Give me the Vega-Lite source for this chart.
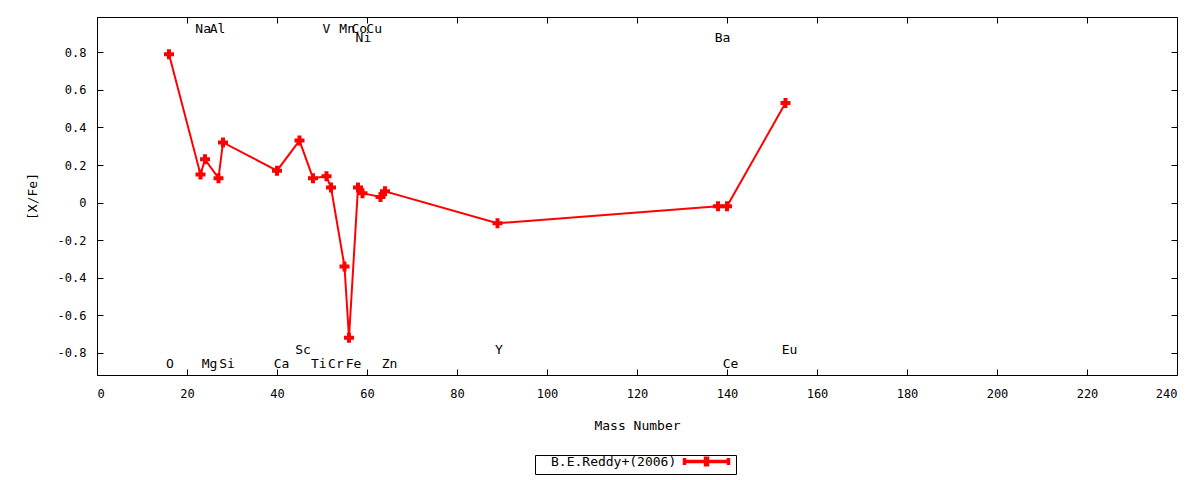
{
  "$schema": "https://vega.github.io/schema/vega-lite/v6.json",
  "width": 1080,
  "height": 358,
  "autosize": {"type": "none"},
  "padding": {"left": 97, "top": 17, "right": 23, "bottom": 105},
  "background": "white",
  "datasets": {
    "abund": [
      {"element": "O", "mass": 16, "xfe": 0.79, "source": "B.E.Reddy+(2006)"},
      {"element": "Na", "mass": 23, "xfe": 0.15, "source": "B.E.Reddy+(2006)"},
      {"element": "Mg", "mass": 24, "xfe": 0.23, "source": "B.E.Reddy+(2006)"},
      {"element": "Al", "mass": 27, "xfe": 0.13, "source": "B.E.Reddy+(2006)"},
      {"element": "Si", "mass": 28, "xfe": 0.32, "source": "B.E.Reddy+(2006)"},
      {"element": "Ca", "mass": 40, "xfe": 0.17, "source": "B.E.Reddy+(2006)"},
      {"element": "Sc", "mass": 45, "xfe": 0.33, "source": "B.E.Reddy+(2006)"},
      {"element": "Ti", "mass": 48, "xfe": 0.13, "source": "B.E.Reddy+(2006)"},
      {"element": "V", "mass": 51, "xfe": 0.14, "source": "B.E.Reddy+(2006)"},
      {"element": "Cr", "mass": 52, "xfe": 0.08, "source": "B.E.Reddy+(2006)"},
      {"element": "Mn", "mass": 55, "xfe": -0.34, "source": "B.E.Reddy+(2006)"},
      {"element": "Fe", "mass": 56, "xfe": -0.72, "source": "B.E.Reddy+(2006)"},
      {"element": "Ni", "mass": 58, "xfe": 0.08, "source": "B.E.Reddy+(2006)"},
      {"element": "Co", "mass": 59, "xfe": 0.05, "source": "B.E.Reddy+(2006)"},
      {"element": "Cu", "mass": 63, "xfe": 0.03, "source": "B.E.Reddy+(2006)"},
      {"element": "Zn", "mass": 64, "xfe": 0.06, "source": "B.E.Reddy+(2006)"},
      {"element": "Y", "mass": 89, "xfe": -0.11, "source": "B.E.Reddy+(2006)"},
      {"element": "Ba", "mass": 138, "xfe": -0.02, "source": "B.E.Reddy+(2006)"},
      {"element": "Ce", "mass": 140, "xfe": -0.02, "source": "B.E.Reddy+(2006)"},
      {"element": "Eu", "mass": 153, "xfe": 0.53, "source": "B.E.Reddy+(2006)"}
    ],
    "labels": [
      {"el": "Na", "lx": 23.6, "ly": 0.923},
      {"el": "Al", "lx": 26.8, "ly": 0.923},
      {"el": "V", "lx": 51.0, "ly": 0.923},
      {"el": "Mn", "lx": 55.6, "ly": 0.923},
      {"el": "Co", "lx": 58.3, "ly": 0.923},
      {"el": "Cu", "lx": 61.6, "ly": 0.923},
      {"el": "Ni", "lx": 59.2, "ly": 0.875},
      {"el": "Ba", "lx": 139.0, "ly": 0.875},
      {"el": "Sc", "lx": 45.8, "ly": -0.784},
      {"el": "Y", "lx": 89.3, "ly": -0.784},
      {"el": "Eu", "lx": 153.9, "ly": -0.784},
      {"el": "O", "lx": 16.2, "ly": -0.86},
      {"el": "Mg", "lx": 25.0, "ly": -0.86},
      {"el": "Si", "lx": 28.9, "ly": -0.86},
      {"el": "Ca", "lx": 41.0, "ly": -0.86},
      {"el": "Ti", "lx": 49.3, "ly": -0.86},
      {"el": "Cr", "lx": 53.1, "ly": -0.86},
      {"el": "Fe", "lx": 57.0, "ly": -0.86},
      {"el": "Zn", "lx": 65.0, "ly": -0.86},
      {"el": "Ce", "lx": 140.8, "ly": -0.86}
    ]
  },
  "layer": [
    {
      "data": {"name": "abund"},
      "mark": {"type": "line", "color": "#ff0000", "strokeWidth": 2},
      "encoding": {
        "x": {
          "field": "mass", "type": "quantitative",
          "scale": {"domain": [0, 240], "nice": false, "zero": false},
          "axis": {
            "orient": "bottom", "title": "Mass Number",
            "values": [0, 20, 40, 60, 80, 100, 120, 140, 160, 180, 200, 220, 240],
            "labelPadding": 19,
            "titleX": 540, "titleY": 50, "titleBaseline": "middle"
          }
        },
        "y": {
          "field": "xfe", "type": "quantitative",
          "scale": {"domain": [-0.918, 0.988], "nice": false, "zero": false},
          "axis": {
            "orient": "left", "title": "[X/Fe]",
            "values": [-0.8, -0.6, -0.4, -0.2, 0, 0.2, 0.4, 0.6, 0.8],
            "labelExpr": "abs(datum.value) < 1e-9 ? '0' : replace(format(datum.value, '.1f'), '\u2212', '-')",
            "labelPadding": 17,
            "titleX": -65, "titleY": 179, "titleAngle": -90,
            "titleAlign": "center", "titleBaseline": "middle"
          }
        },
        "color": {
          "field": "source", "type": "nominal",
          "scale": {"range": ["#ff0000"]},
          "legend": {
            "orient": "none", "legendX": 438, "legendY": 438,
            "title": null, "strokeColor": "black", "padding": 0,
            "labelFont": "DejaVu Sans Mono", "labelFontSize": 13, "labelColor": "black",
            "symbolType": "M71.5,0L93.5,0M71.5,-1.75L71.5,1.75M93.5,-1.75L93.5,1.75M82,-2.5L82,2.5M83,-2.5L83,2.5",
            "symbolSize": 16, "symbolStrokeWidth": 3.5, "symbolStrokeColor": "#ff0000",
            "symbolFillColor": "transparent",
            "labelOffset": 3
          }
        }
      }
    },
    {
      "data": {"name": "abund"},
      "mark": {"type": "point", "shape": "cross", "filled": true, "size": 100, "color": "#ff0000", "opacity": 1},
      "encoding": {
        "x": {
          "field": "mass", "type": "quantitative",
          "axis": {"orient": "top", "labels": false, "title": null,
                   "values": [0, 20, 40, 60, 80, 100, 120, 140, 160, 180, 200, 220, 240]}
        },
        "y": {
          "field": "xfe", "type": "quantitative",
          "axis": {"orient": "right", "labels": false, "title": null,
                   "values": [-0.8, -0.6, -0.4, -0.2, 0, 0.2, 0.4, 0.6, 0.8]}
        }
      }
    },
    {
      "data": {"name": "labels"},
      "mark": {"type": "text", "font": "DejaVu Sans Mono", "fontSize": 13, "color": "black", "align": "center", "baseline": "middle"},
      "encoding": {
        "x": {"field": "lx", "type": "quantitative", "axis": null},
        "y": {"field": "ly", "type": "quantitative", "axis": null},
        "text": {"field": "el"}
      }
    }
  ],
  "resolve": {"axis": {"x": "independent", "y": "independent"}},
  "config": {
    "font": "DejaVu Sans Mono",
    "view": {"stroke": "black", "strokeWidth": 1},
    "axis": {
      "domain": false, "grid": false,
      "ticks": true, "tickSize": -6, "tickColor": "#000000", "tickWidth": 1, "tickOpacity": 1,
      "labelFont": "DejaVu Sans Mono", "labelFontSize": 12, "labelColor": "black",
      "titleFont": "DejaVu Sans Mono", "titleFontSize": 13, "titleFontWeight": "normal", "titleColor": "black"
    }
  }
}
